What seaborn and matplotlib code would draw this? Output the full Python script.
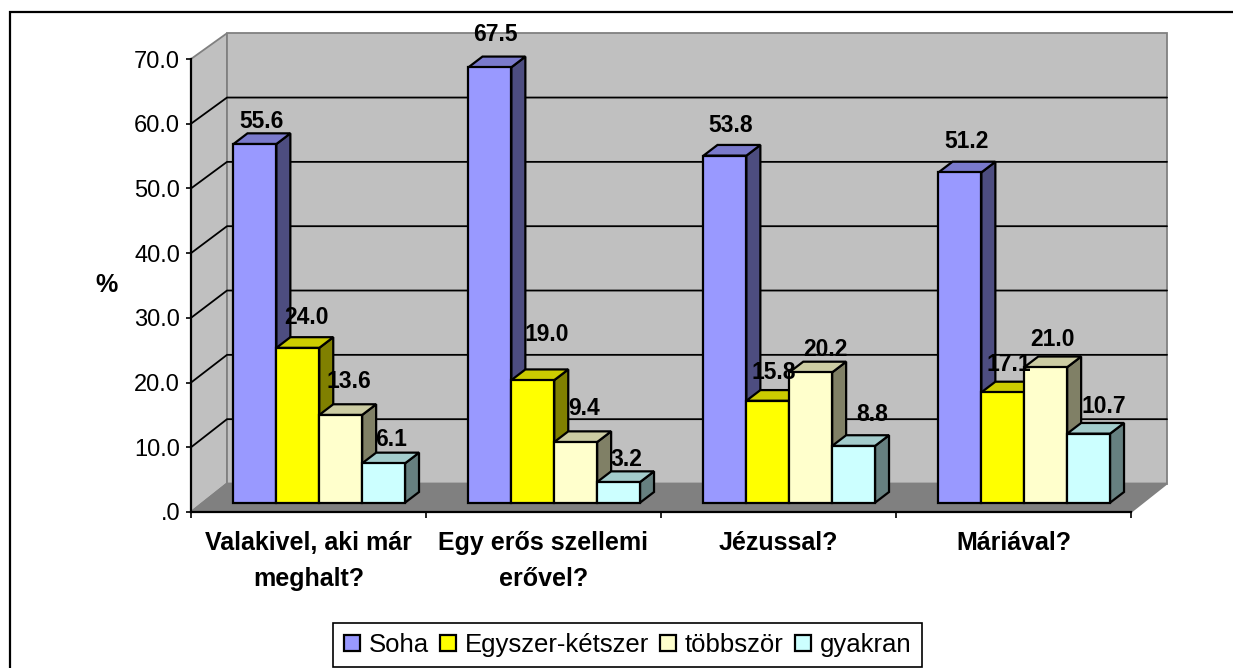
import numpy as np
import pandas as pd
import matplotlib
matplotlib.use("Agg")
import matplotlib.pyplot as plt
import seaborn as sns
from matplotlib.lines import Line2D
from matplotlib.patches import Polygon
from matplotlib.transforms import Affine2D, IdentityTransform

# ---- data ----
questions = ["Valakivel, aki már\nmeghalt?", "Egy erős szellemi\nerővel?", "Jézussal?", "Máriával?"]
frequencies = ["Soha", "Egyszer-kétszer", "többször", "gyakran"]
soha = [55.6, 67.5, 53.8, 51.2]
egyszer = [24.0, 19.0, 15.8, 17.1]
tobbszor = [13.6, 9.4, 20.2, 21.0]
gyakran = [6.1, 3.2, 8.8, 10.7]
y_ticks = [0, 10, 20, 30, 40, 50, 60, 70]
y_tick_labels = [".0", "10.0", "20.0", "30.0", "40.0", "50.0", "60.0", "70.0"]

# ---- styles ----
face_colors = ["#9999FF", "#FFFF00", "#FFFFCC", "#CCFFFF"]
side_colors = ["#4D4D80", "#808000", "#808066", "#668080"]
top_colors = ["#7A7ACC", "#CCCC00", "#CCCCA3", "#A3CCCC"]
WALL, FLOOR, EDGE = "#C0C0C0", "#808080", "#808080"
WALL_DX, WALL_DY, WALL_K = 36.0, 28.5, 0.994
BAR_DX, BAR_DY, BAR_K = 10.75, 9.3, 0.9968
DEPTH_DX, DEPTH_DY = 14.0, 10.7
# label placement relative to the bar's front top centre (pixels), per series then group
nudge_x = [[7, 5, 6, 7], [9, 14, 6, 6], [8, 8, 15, 7], [7.5, 7.5, 18.5, 15.5]]
nudge_y = [[23, 33, 30, 31], [30, 46, 28, 28], [33, 34, 23, 28], [24, 23, 31, 27]]

sns.set_theme(style="white")
plt.rcParams["font.family"] = ["Liberation Sans", "DejaVu Sans"]

df = pd.DataFrame({
    "question": np.repeat(questions, len(frequencies)),
    "freq": frequencies * len(questions),
    "pct": np.array([soha, egyszer, tobbszor, gyakran]).T.ravel(),
})

W, H = 1233, 668
fig = plt.figure(figsize=(W / 100, H / 100), dpi=100, facecolor="white")
ax = fig.add_axes([191 / W, (H - 512) / H, 940 / W, 453 / H])
ax.patch.set_alpha(0)

sns.barplot(data=df, x="question", y="pct", hue="freq", hue_order=frequencies,
            order=questions, palette=face_colors, width=0.73, gap=0, dodge=True,
            edgecolor="black", linewidth=1.6, saturation=1, ax=ax, zorder=5)
ax.set_xlim(-0.5, len(questions) - 0.5)
ax.set_ylim(0, 70)
handles, labels = ax.get_legend_handles_labels()
if ax.get_legend():
    ax.get_legend().remove()

# ---- 3D box built from the axes scales ----
y_base = ax.transData.transform((0, 0))[1]


def px(x, y, dx=0.0, dy=0.0, k=1.0):
    X, Y = ax.transData.transform((x, y))
    return (X + dx, y_base + (Y - y_base) * k + dy)


idt = IdentityTransform()
x0, x1 = ax.get_xlim()
back = dict(dx=WALL_DX, dy=WALL_DY, k=WALL_K)
ax.add_patch(Polygon([px(x0, 0), px(x0, 70), px(x0, 70, **back), px(x0, 0, **back)],
                     closed=True, fc=WALL, ec=EDGE, lw=1.3, transform=idt, clip_on=False, zorder=0.5))
ax.add_patch(Polygon([px(x0, 0, **back), px(x0, 70, **back), px(x1, 70, **back), px(x1, 0, **back)],
                     closed=True, fc=WALL, ec=EDGE, lw=1.3, transform=idt, clip_on=False, zorder=0.6))
ax.add_patch(Polygon([px(x0, 0), px(x1, 0), px(x1, 0, **back), px(x0, 0, **back)],
                     closed=True, fc=FLOOR, ec=EDGE, lw=1.3, transform=idt, clip_on=False, zorder=0.7))
for v in y_ticks[1:-1]:
    pts = [px(x0, v), px(x0, v, **back), px(x1, v, **back)]
    ax.add_line(Line2D(*zip(*pts), color="black", lw=1.3, transform=idt, clip_on=False, zorder=0.9))

# ---- bars: shift the seaborn bars into the box and add side and top faces ----
bar_tf = (ax.transData + Affine2D().translate(0, -y_base).scale(1, BAR_K)
          .translate(BAR_DX, y_base + BAR_DY))
for s, container in enumerate(ax.containers):
    for g, bar in enumerate(container):
        x, w, v = bar.get_x(), bar.get_width(), bar.get_height()
        z = 2 + (g * 4 + s) * 0.1
        bar.set_transform(bar_tf)
        bar.set_clip_on(False)
        bar.set_zorder(z + 0.05)
        bar.set_joinstyle("miter")
        (xl, yb), (xr, yt) = bar_tf.transform([(x, 0), (x + w, v)])
        side = [(xr, yb), (xr + DEPTH_DX, yb + DEPTH_DY), (xr + DEPTH_DX, yt + DEPTH_DY), (xr, yt)]
        top = [(xl, yt), (xl + DEPTH_DX, yt + DEPTH_DY), (xr + DEPTH_DX, yt + DEPTH_DY), (xr, yt)]
        ax.add_patch(Polygon(side, closed=True, fc=side_colors[s], ec="black", lw=1.6,
                             transform=idt, clip_on=False, zorder=z))
        ax.add_patch(Polygon(top, closed=True, fc=top_colors[s], ec="black", lw=1.6,
                             transform=idt, clip_on=False, zorder=z))
        ax.text(x + w / 2, v, f"{v:.1f}", ha="center", va="center", fontsize=16.5, fontweight="bold",
                color="black", clip_on=False, zorder=8,
                transform=bar_tf + Affine2D().translate(nudge_x[s][g], nudge_y[s][g]))

# ---- axes ----
for name in ("top", "right"):
    ax.spines[name].set_visible(False)
for name in ("left", "bottom"):
    ax.spines[name].set_color("black")
    ax.spines[name].set_linewidth(1.6)
    ax.spines[name].set_zorder(1)
ax.set_yticks(y_ticks, y_tick_labels, fontsize=17)
ax.set_xticks(range(len(questions)), questions, fontsize=18, fontweight="bold", linespacing=1.62)
ax.set_xticks(np.arange(-0.5, len(questions)), minor=True)
ax.tick_params(axis="y", left=True, length=3.6, width=1.2, pad=4.3, color="black", labelcolor="black")
ax.tick_params(axis="x", which="major", bottom=False, length=0, pad=14, labelcolor="black")
ax.tick_params(axis="x", which="minor", bottom=True, length=4, width=1.2, color="black")
ax.set_xlabel("")
ax.set_ylabel("")
fig.text(107 / W, 1 - 285 / H, "%", ha="center", va="center", fontsize=18, fontweight="bold", color="black")

# ---- legend ----
fig.legend(handles, labels, loc="center", bbox_to_anchor=(627.5 / W, 1 - 645 / H), ncol=4,
           fontsize=18.5, frameon=True, fancybox=False, framealpha=1, edgecolor="black",
           labelcolor="black", handlelength=0.62, handleheight=0.62, handletextpad=0.36,
           columnspacing=0.42, borderpad=0.4, borderaxespad=0)
fig.legends[0].get_frame().set_linewidth(1.2)

# ---- outer frame ----
fig.add_artist(Line2D([10 / W, 10 / W, 1], [0, 1 - 12 / H, 1 - 12 / H], color="black", lw=1.6,
                      transform=fig.transFigure, solid_joinstyle="miter"))

fig.savefig("out.png", dpi=100)
